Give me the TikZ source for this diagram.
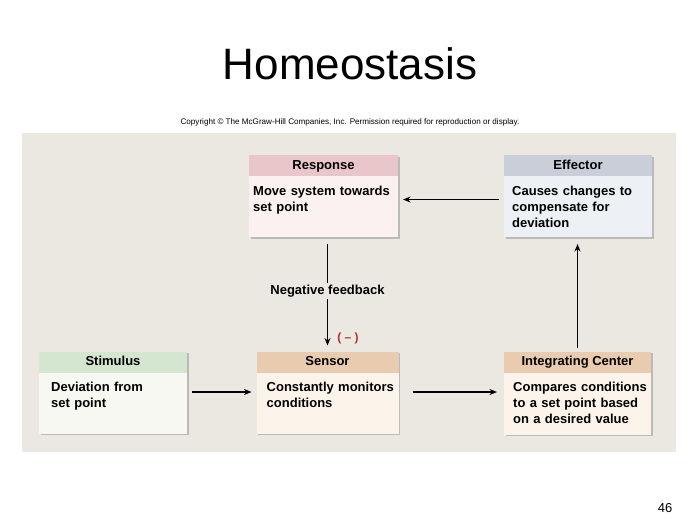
\documentclass[tikz,border=0pt]{standalone}
\usepackage{fontspec}
\setmainfont{Liberation Sans}
\usetikzlibrary{arrows.meta,shadows}
\definecolor{panel}{HTML}{EBE8E2}
\definecolor{resphc}{HTML}{E8C6C9}
\definecolor{respbc}{HTML}{FCF1F1}
\definecolor{effhc}{HTML}{C9CED9}
\definecolor{effbc}{HTML}{EDF0F4}
\definecolor{stimhc}{HTML}{D4E6CF}
\definecolor{stimbc}{HTML}{F6F8F1}
\definecolor{senshc}{HTML}{E9CCAF}
\definecolor{sensbc}{HTML}{FCF4EA}
\definecolor{minusred}{HTML}{B3302C}
\begin{document}
\begin{tikzpicture}[x=1pt,y=-1pt,
  boxshadow/.style={drop shadow={shadow xshift=1.5pt,shadow yshift=-1.5pt,opacity=0.35,fill=black!60}},
  hdr/.style={anchor=north west,inner sep=0pt,outer sep=0pt,minimum height=21pt,
    text height=9.6pt,text depth=2.6pt,
    font=\fontsize{13}{16}\selectfont\bfseries,boxshadow},
  bdy/.style={anchor=north west,inner sep=0pt,outer sep=0pt,boxshadow},
  txt/.style={anchor=north west,inner sep=0pt,align=left,text width=145pt,
    font=\fontsize{13}{16}\selectfont\bfseries},
  arr/.style={-{Stealth[length=7.5pt,width=6pt]},line width=1.3pt}]
\useasboundingbox (0,0) rectangle (700,525);
\fill[white] (0,0) rectangle (700,525);
\fill[panel] (22,133) rectangle (676,452);
\node[font=\fontsize{44}{50}\selectfont] (title) at (350,64) {Homeostasis};
\node[font=\fontsize{8.1}{10}\selectfont] (copy) at (350,122) {Copyright © The McGraw-Hill Companies, Inc. Permission required for reproduction or display.};
% Response
\node[hdr,fill=resphc,minimum width=149pt] (resph) at (249,155) {Response};
\node[bdy,fill=respbc,minimum width=149pt,minimum height=61pt] (resp) at (249,176) {};
\node[txt] (respt) at (253,185.5) {Move system towards\\set point};
% Effector
\node[hdr,fill=effhc,minimum width=148pt] (effh) at (504,155) {Effector};
\node[bdy,fill=effbc,minimum width=148pt,minimum height=61pt] (eff) at (504,176) {};
\node[txt] (efft) at (512,185.5) {Causes changes to\\compensate for\\deviation};
% Stimulus
\node[hdr,fill=stimhc,minimum width=148pt] (stimh) at (39,351.5) {Stimulus};
\node[bdy,fill=stimbc,minimum width=148pt,minimum height=61pt] (stim) at (39,372.5) {};
\node[txt] (stimt) at (51,381.5) {Deviation from\\set point};
% Sensor
\node[hdr,fill=senshc,minimum width=142pt] (sensh) at (256.5,351.5) {Sensor};
\node[bdy,fill=sensbc,minimum width=142pt,minimum height=61pt] (sens) at (256.5,372.5) {};
\node[txt] (senst) at (266.5,381.5) {Constantly monitors\\conditions};
% Integrating center
\node[hdr,fill=senshc,minimum width=147pt] (inth) at (504,351.5) {Integrating Center};
\node[bdy,fill=sensbc,minimum width=147pt,minimum height=62pt] (int) at (504,372.5) {};
\node[txt] (intt) at (513,381.5) {Compares conditions\\to a set point based\\on a desired value};
% arrows
\draw[arr,shorten <=5pt,shorten >=5pt] ([yshift=7pt]eff.west) -- ([yshift=7pt]eff.west -| resp.east);
\draw[arr,shorten <=7pt,shorten >=6pt] (resp.south -| sensh.north) -- (sensh.north);
\node[fill=panel,inner xsep=2pt,inner ysep=2pt,font=\fontsize{13}{16}\selectfont\bfseries] (neg) at (327.5,291) {Negative feedback};
\node[text=minusred,font=\fontsize{12}{14}\selectfont\bfseries] (minus) at (348,338) {( – )};
\draw[arr,shorten <=5pt,shorten >=5pt] ([yshift=11pt]stim.east) -- ([yshift=11pt]stim.east -| sens.west);
\draw[arr,shorten <=14pt,shorten >=7pt] ([yshift=11pt]sens.east) -- ([yshift=11pt]sens.east -| int.west);
\draw[arr,shorten <=4pt,shorten >=7pt] (inth.north) -- (eff.south -| inth.north);
\node[font=\fontsize{13}{16}\selectfont] (page) at (665,508) {46};
\end{tikzpicture}
\end{document}
